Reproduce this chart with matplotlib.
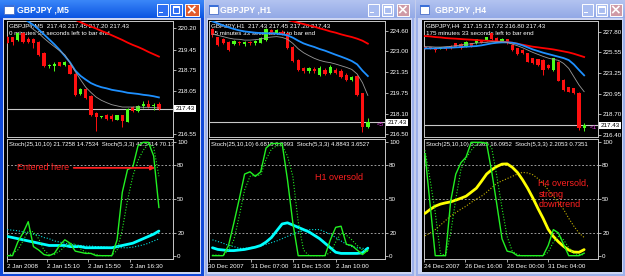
import numpy as np
import matplotlib
matplotlib.use('Agg')
import matplotlib.pyplot as plt
from matplotlib.patches import Rectangle
import matplotlib.transforms as mtransforms

plt.rcParams['font.family'] = ['Liberation Sans', 'DejaVu Sans']

nan = np.nan
# ------------------------------------------------------------------ data
titles = ['GBPJPY ,M5', 'GBPJPY ,H1', 'GBPJPY ,H4']
headers = ['GBPJPY,M5  217.43 217.45 217.20 217.43',
           'GBPJPY,H1  217.43 217.45 217.20 217.43',
           'GBPJPY,H4  217.15 217.72 216.80 217.43']
timers = ['0 minutes 33 seconds left to bar end',
          '55 minutes 33 seconds left to bar end',
          '175 minutes 33 seconds left to bar end']
stoch_headers = ['Stoch(25,10,10) 21.7258 14.7534  Stoch(5,3,3) 42.5414 70.13',
                 'Stoch(25,10,10) 6.6815 6.0993  Stoch(5,3,3) 4.8843 3.6527',
                 'Stoch(25,10,10) 5.3362 16.0952  Stoch(5,3,3) 2.2053 0.7351']
current_price = 217.43
price_ticks_m5 = [220.20, 219.45, 218.75, 218.05, 216.55]
price_ticks_h1 = [224.60, 223.00, 221.35, 219.75, 218.10, 216.50]
price_ticks_h4 = [227.80, 225.55, 223.25, 220.95, 218.70, 216.40]
stoch_levels = [20, 50, 80]
stoch_ticks = [0, 20, 50, 80, 100]
date_labels_m5 = ['2 Jan 2008', '2 Jan 15:10', '2 Jan 15:50', '2 Jan 16:30']
date_labels_h1 = ['30 Dec 2007', '31 Dec 07:00', '31 Dec 15:00', '2 Jan 10:00']
date_labels_h4 = ['24 Dec 2007', '26 Dec 16:00', '28 Dec 00:00', '31 Dec 04:00']

# M5 candles
m5_open = [219.90, 219.88, 219.79, 220.02, 219.81, 219.82, 219.73, 219.34, 218.90, 218.88,
           219.03, 218.93, 218.94, 218.63, 217.94, 218.11, 217.88, 217.29, 217.15, 217.23,
           217.17, 217.06, 217.21, 216.99, 217.49, 217.34, 217.51, 217.61, 217.51, 217.61]
m5_high = [219.92, 219.90, 220.04, 220.07, 219.88, 219.85, 219.77, 219.36, 218.95, 219.02,
           219.05, 219.07, 218.96, 218.65, 218.15, 218.14, 217.91, 217.31, 217.18, 217.26,
           217.26, 217.23, 217.23, 217.46, 217.51, 217.56, 217.69, 217.74, 217.63, 217.65]
m5_low = [219.68, 219.60, 219.77, 219.70, 219.70, 219.51, 219.24, 218.86, 218.84, 218.74,
          218.88, 218.88, 218.61, 217.88, 217.90, 217.77, 217.17, 216.66, 217.10, 217.04,
          217.00, 217.04, 216.81, 216.97, 217.32, 217.32, 217.46, 217.46, 217.38, 217.40]
m5_close = [219.70, 219.73, 220.02, 219.73, 219.73, 219.68, 219.28, 218.88, 218.90, 218.96,
            218.91, 219.02, 218.63, 217.91, 218.12, 217.80, 217.23, 217.15, 217.15, 217.08,
            217.09, 217.21, 217.00, 217.42, 217.34, 217.54, 217.58, 217.49, 217.57, 217.43]
m5_ma_red = [nan] * 13 + [220.48, 220.40, 220.32, 220.25, 220.18, 220.10, 220.03, 219.95,
                          219.87, 219.79, 219.70, 219.62, 219.55, 219.47, 219.38, 219.30, 219.22]
m5_ma_blue = [nan, nan, nan, 220.55, 220.42, 220.30, 220.15, 219.98, 219.81, 219.64,
              219.45, 219.24, 219.02, 218.74, 218.56, 218.43, 218.31, 218.23, 218.17, 218.13,
              218.08, 218.05, 218.02, 217.98, 217.96, 217.94, 217.91, 217.89, 217.86, 217.82]
m5_ma_grey = [nan, nan, nan, nan, 220.30, 220.15, 220.02, 219.85, 219.70, 219.56,
              219.42, 219.28, 219.00, 218.71, 218.43, 218.17, 217.99, 217.83, 217.72, 217.64,
              217.57, 217.53, 217.49, 217.49, 217.49, 217.49, 217.48, 217.48, 217.47, 217.46]
m5_fast_main = [0, 0, 12, 20, 30, 8, 5, 1, 0, 2, 9, 14, 11, 4, 3, 2, 2, 0, 0, 0,
                0, 14, 56, 76, 78, 97, 100, 100, 88, 42.54]
m5_fast_sig = [0, 2, 5, 13, 22, 21, 15, 5, 1, 1, 4, 8, 11, 10, 6, 3, 2, 1, 0, 0,
               0, 5, 23, 49, 70, 84, 93, 99, 96, 70.13]
m5_slow_main = [17, 16, 15, 14, 13, 12, 11, 10, 9, 9, 9, 9, 8, 8, 8, 7, 7, 7, 7, 7,
                7, 8, 9, 10, 11, 13, 15, 17, 19, 21.73]
m5_slow_sig = [23, 22.5, 22, 21, 20, 19, 18, 16, 15, 13, 12, 11, 10, 9.5, 9, 8.5, 8.5, 8, 8, 7.5,
               7, 7, 7, 7, 7.5, 8.5, 9.5, 11, 13, 14.75]

# H1 candles
h1_open = [224.73, 224.10, 223.95, 223.76, 223.58, 223.74, 223.55, 223.74, 223.63, 223.68,
           223.89, 224.68, 224.42, 224.55, 224.42, 223.37, 222.33, 221.67, 221.46, 221.59,
           221.15, 221.54, 221.28, 221.54, 221.49, 221.15, 220.76, 221.07, 219.71, 217.10]
h1_high = [224.81, 224.16, 224.02, 223.84, 223.89, 223.84, 223.84, 223.81, 223.89, 224.10,
           224.81, 224.73, 224.78, 224.68, 224.47, 223.42, 222.38, 221.80, 221.80, 221.80,
           221.85, 221.67, 221.93, 221.67, 221.59, 221.28, 221.07, 221.15, 219.76, 217.75]
h1_low = [224.16, 223.42, 223.55, 223.06, 223.50, 223.50, 223.45, 223.53, 223.53, 223.63,
          223.84, 224.34, 224.37, 224.29, 223.19, 222.19, 221.49, 221.33, 221.33, 221.28,
          221.07, 221.15, 221.23, 221.23, 220.89, 220.68, 220.68, 219.50, 216.70, 216.97]
h1_close = [224.29, 223.50, 223.63, 223.11, 223.84, 223.63, 223.76, 223.63, 223.84, 224.02,
            224.73, 224.42, 224.68, 224.34, 223.24, 222.27, 221.54, 221.46, 221.67, 221.49,
            221.67, 221.23, 221.80, 221.33, 220.97, 220.76, 221.02, 219.58, 217.10, 217.43]
h1_ma_red = [nan] * 14 + [225.47, 225.36, 225.25, 225.15, 225.04, 224.94, 224.81, 224.70,
                          224.57, 224.47, 224.34, 224.23, 224.13, 224.00, 223.84, 223.61]
h1_ma_blue = [225.36, 225.20, 225.04, 224.89, 224.76, 224.65, 224.57, 224.52, 224.47, 224.44,
              224.42, 224.42, 224.39, 224.34, 224.26, 224.08, 223.84, 223.63, 223.48, 223.35,
              223.19, 223.06, 222.90, 222.74, 222.59, 222.43, 222.25, 221.99, 221.49, 221.07]
h1_ma_grey = [224.36, 224.26, 224.16, 224.05, 223.97, 223.95, 223.89, 223.89, 223.92, 223.97,
              224.08, 224.13, 224.16, 224.10, 223.95, 223.63, 223.21, 222.90, 222.67, 222.46,
              222.30, 222.19, 222.12, 222.01, 221.88, 221.75, 221.59, 221.23, 220.55, 219.55]
h1_fast_main = [0, 0, 0, 9, 29, 50, 72, 74, 70, 74, 95, 99, 99, 99, 67, 29, 0, 0, 0, 0,
                0, 0, 14, 25, 26, 10, 9, 5, 1, 4.88]
h1_fast_sig = [0.5, 0.5, 0, 5, 14, 35, 58, 70, 71, 71, 85, 94, 97, 97, 88, 70, 30, 5, 0, 0,
               0, 0, 3, 12, 20, 18, 14, 9, 5, 3.65]
h1_slow_main = [7, 5.5, 5, 4.5, 4.5, 5, 5.5, 6.5, 7.5, 9, 12, 16, 22, 28, 29, 27, 25, 23, 21, 18,
                15, 11, 7, 3, 2, 2, 2, 2, 2.5, 6.68]
h1_slow_sig = [14, 12.5, 11, 9, 8, 6.5, 6.5, 7, 8, 9, 10, 11.5, 13, 15, 17, 19, 21, 22, 23, 23,
               23, 21, 19, 16, 13, 10, 8, 7, 6.5, 6.10]

# H4 candles
h4_open = [226.14, 226.06, 226.03, 225.92, 226.03, 226.21, 226.51, 226.43, 226.14, 226.51,
           226.51, 226.80, 226.80, 227.62, 227.06, 226.69, 226.95, 226.32, 225.95, 225.77,
           225.40, 224.85, 224.74, 224.66, 224.11, 223.56, 224.48, 222.45, 221.64, 221.53,
           220.97, 217.15]
h4_high = [226.21, 226.14, 226.14, 226.14, 226.10, 226.29, 226.58, 226.51, 226.77, 226.58,
           227.03, 226.88, 227.25, 227.70, 227.17, 227.10, 227.03, 226.43, 226.03, 225.84,
           225.48, 224.92, 224.80, 224.74, 224.20, 224.92, 224.55, 222.52, 221.72, 221.60,
           221.16, 217.72]
h4_low = [225.90, 225.84, 225.59, 225.84, 225.77, 225.88, 226.06, 225.88, 226.06, 226.14,
          226.43, 226.51, 226.73, 226.88, 226.62, 226.62, 226.43, 225.70, 225.22, 225.30,
          224.40, 224.20, 224.00, 223.00, 223.65, 223.48, 222.30, 221.25, 221.08, 220.90,
          216.92, 216.80]
h4_close = [225.95, 225.92, 225.77, 226.06, 225.84, 225.95, 226.14, 225.95, 226.69, 226.21,
            226.95, 226.58, 227.17, 226.95, 226.69, 227.03, 226.51, 225.77, 225.33, 225.40,
            224.48, 224.29, 224.11, 223.56, 223.74, 224.85, 222.38, 221.34, 221.16, 220.97,
            217.10, 217.43]
h4_ma_red = [227.32, 227.28, 227.21, 227.17, 227.10, 227.06, 227.03, 226.99, 226.95, 226.92,
             226.88, 226.84, 226.80, 226.77, 226.73, 226.69, 226.66, 226.58, 226.47, 226.36,
             226.25, 226.14, 226.07, 225.99, 225.92, 225.84, 225.73, 225.62, 225.51, 225.36,
             225.18, 225.00]
h4_ma_blue = [225.95, 225.95, 225.97, 225.99, 226.01, 226.03, 226.07, 226.10, 226.14, 226.18,
              226.21, 226.29, 226.40, 226.51, 226.58, 226.62, 226.62, 226.58, 226.47, 226.29,
              226.07, 225.84, 225.66, 225.48, 225.33, 225.18, 225.03, 224.88, 224.66, 224.18,
              223.56, 222.97]
h4_ma_grey = [226.14, 226.14, 226.10, 226.10, 226.14, 226.18, 226.25, 226.32, 226.40, 226.47,
              226.55, 226.58, 226.62, 226.69, 226.69, 226.69, 226.62, 226.43, 226.25, 226.03,
              225.77, 225.51, 225.29, 225.07, 224.88, 224.74, 224.63, 224.29, 223.74, 222.82,
              221.90, 221.16]
h4_fast_main = [90, 45, 0, 0, 0, 48, 72, 82, 87, 100, 100, 100, 99, 74, 45, 15, 4, 3, 0, 0,
                0, 0, 0, 0, 9, 23, 20, 10, 0, 0, 0, 2.21]
h4_fast_sig = [93, 67, 38, 2, 0, 20, 50, 76, 86, 93, 98, 100, 100, 95, 70, 42, 17, 4, 1, 0,
               0, 0, 0, 0, 3, 12, 17, 14, 7, 2, 1, 0.74]
h4_slow_main = [37.3, 40.8, 43.7, 45.5, 46.6, 47.5, 49, 50.7, 52.5, 56, 59.5, 65.6, 72, 75.8,
                78.7, 80.8, 81, 78, 73.5, 67, 59.5, 51, 41.7, 33, 23.3, 17, 12.2, 8.2, 5, 3.2,
                3, 5.34]
h4_slow_sig = [17.5, 20, 23, 27, 31, 35, 38, 41, 43.7, 47, 50, 52.5, 56, 60, 64, 66, 68, 70, 72,
               73.5, 73, 71.4, 68, 64, 58, 52.5, 47, 40.8, 33, 26, 20, 16.1]

# ------------------------------------------------------------------ style
W, H = 625, 276
FS = 4.5
BULL = '#4cff1a'
BEAR = '#ff1010'
GREEN = '#22f022'
FRAME = '#c8c8c8'

fig = plt.figure(figsize=(W / 100, H / 100), dpi=100)
fig.patch.set_facecolor('#c4cdec')

bg = fig.add_axes([0, 0, 1, 1])
bg.set_zorder(-10)
bg.axis('off')


def rect(x0, y0, x1, y1, **kw):
    bg.add_patch(Rectangle((x0, y0), x1 - x0, y1 - y0, **kw))


def hex2rgb(h):
    h = h.lstrip('#')
    return [int(h[i:i + 2], 16) / 255 for i in (0, 2, 4)]


windows = [
    dict(x0=0, x1=203.5, bx0=4, bx1=199.5, active=True, title_x=17),
    dict(x0=204.5, x1=414, bx0=207.8, bx1=411, active=False, title_x=219.5),
    dict(x0=415.5, x1=625, bx0=421.7, bx1=621.5, active=False, title_x=435),
]
buttons = [
    [(156.5, 168), (170, 182), (185, 198.5)],
    [(367.7, 378.5), (381.7, 393.3), (396.7, 409)],
    [(581.7, 592.5), (596, 607), (610, 621.7)],
]

for wi, (w, btn) in enumerate(zip(windows, buttons)):
    act = w['active']
    outer = '#1048d8' if act else '#9cb0ea'
    rect(w['x0'], 0, w['x1'], H + 2, fc=outer, ec='none', zorder=1)
    rect(w['x0'] + 2.5, 18, w['x1'] - 2.5, 273.5, fc='#cdd5f2', ec='none', zorder=2)
    rect(w['bx0'], 19.5, w['bx1'], 271.8, fc='black', ec='none', zorder=3)
    top, bot = ('#3a86f8', '#0c55e2') if act else ('#b2c3f0', '#93a9e6')
    t, b = np.array(hex2rgb(top)), np.array(hex2rgb(bot))
    f = np.linspace(0, 1, 18)[:, None, None]
    grad = t * (1 - f) + b * f
    bg.imshow(np.repeat(grad, 2, axis=1), extent=(w['x0'], w['x1'], 18, 0),
              aspect='auto', zorder=2, interpolation='bilinear')
    # icon
    rect(w['x0'] + 4, 4.5, w['x0'] + 13.5, 14, fc='white', ec='#4a6fc8', lw=0.6, zorder=4)
    rect(w['x0'] + 4, 4.5, w['x0'] + 13.5, 7, fc='#3a6fd8', ec='none', zorder=5)
    bg.text(w['title_x'], 9.8, titles[wi], color='white', fontsize=6.2,
            fontweight='bold', va='center', ha='left', zorder=5)
    # buttons
    for k, (a, bb) in enumerate(btn):
        if k == 2:
            fc = '#e25b2c' if act else '#cf9aa6'
        else:
            fc = '#2f6ff2' if act else '#a9bdf0'
        rect(a, 3.5, bb, 15.5, fc=fc, ec='white', lw=0.7, zorder=5)
        cx, cy = (a + bb) / 2, 9.5
        if k == 0:
            rect(cx - 3, cy + 2, cx + 1, cy + 3.3, fc='white', ec='none', zorder=6)
        elif k == 1:
            rect(cx - 3.2, cy - 3.2, cx + 3.2, cy + 3.2, fc='none', ec='white', lw=0.8, zorder=6)
            rect(cx - 3.2, cy - 3.2, cx + 3.2, cy - 2.0, fc='white', ec='none', zorder=6)
        else:
            bg.plot([cx - 3, cx + 3], [cy - 3, cy + 3], color='white', lw=1.2, zorder=6)
            bg.plot([cx - 3, cx + 3], [cy + 3, cy - 3], color='white', lw=1.2, zorder=6)

bg.set_xlim(0, W)
bg.set_ylim(H, 0)


def pax(x0, y0, x1, y1):
    return fig.add_axes([x0 / W, 1 - y1 / H, (x1 - x0) / W, (y1 - y0) / H])


def style(ax):
    ax.set_facecolor('black')
    for s in ax.spines.values():
        s.set_color(FRAME)
        s.set_linewidth(0.7)
    ax.tick_params(colors=FRAME, labelcolor='white', labelsize=FS, length=2, width=0.6, pad=1)


def candles(ax, o, h, l, c):
    o, h, l, c = map(np.asarray, (o, h, l, c))
    x = np.arange(len(o))
    cols = [BULL if ci >= oi else BEAR for oi, ci in zip(o, c)]
    ax.vlines(x, l, h, colors=cols, lw=0.7, zorder=4)
    body = np.maximum(np.abs(c - o), 0.004 * (ax.get_ylim()[1] - ax.get_ylim()[0]))
    ax.bar(x, body, bottom=np.minimum(o, c), width=0.62, color=cols, lw=0, zorder=5)


PY0, PY1 = 20.7, 136.5
SY0, SY1 = 138.5, 259.3

panes = [
    dict(x0=6.7, x1=173, xlim=(-0.12, 31.7), ylim=(216.48, 220.45),
         o=m5_open, h=m5_high, l=m5_low, c=m5_close,
         red=m5_ma_red, blue=m5_ma_blue, grey=m5_ma_grey, ticks=price_ticks_m5,
         fm=m5_fast_main, fs=m5_fast_sig, sm=m5_slow_main, ss=m5_slow_sig,
         slow_col='#00ffff', slow_sig_col='#00e0e0',
         dates=date_labels_m5, date_pos=[7.6, 15.5, 23.5], mark=None),
    dict(x0=208.5, x1=385, xlim=(-0.74, 32.2), ylim=(216.33, 225.41),
         o=h1_open, h=h1_high, l=h1_low, c=h1_close,
         red=h1_ma_red, blue=h1_ma_blue, grey=h1_ma_grey, ticks=price_ticks_h1,
         fm=h1_fast_main, fs=h1_fast_sig, sm=h1_slow_main, ss=h1_slow_sig,
         slow_col='#00ffff', slow_sig_col='#00e0e0',
         dates=date_labels_h1, date_pos=[7.1, 15.0, 23.0], mark='<5'),
    dict(x0=423.5, x1=598, xlim=(-0.29, 33.7), ylim=(216.20, 229.02),
         o=h4_open, h=h4_high, l=h4_low, c=h4_close,
         red=h4_ma_red, blue=h4_ma_blue, grey=h4_ma_grey, ticks=price_ticks_h4,
         fm=h4_fast_main, fs=h4_fast_sig, sm=h4_slow_main, ss=h4_slow_sig,
         slow_col='#ffff00', slow_sig_col='#c8b400',
         dates=date_labels_h4, date_pos=[7.8, 15.9, 23.9], mark='<1'),
]

stoch_axes = []
for k, p in enumerate(panes):
    # ---------------- price pane
    ax = pax(p['x0'], PY0, p['x1'], PY1)
    style(ax)
    ax.set_xlim(*p['xlim'])
    ax.set_ylim(*p['ylim'])
    candles(ax, p['o'], p['h'], p['l'], p['c'])
    n = len(p['o'])
    x = np.arange(n)
    ax.plot(x, p['red'], color='#ff0000', lw=1.3, zorder=6)
    ax.plot(x, p['blue'], color='#1e90ff', lw=1.3, zorder=6)
    ax.plot(x, p['grey'], color='#9a9a9a', lw=0.6, zorder=6)
    ax.axhline(current_price, color='#c8c8c8', lw=0.8, zorder=3)
    ax.yaxis.tick_right()
    ax.set_yticks(p['ticks'])
    ax.set_yticklabels([f'{t:.2f}' for t in p['ticks']])
    ax.set_xticks([])
    tr = mtransforms.blended_transform_factory(ax.transAxes, ax.transData)
    ax.text(1.0, current_price, f'{current_price:.2f}',
            transform=mtransforms.offset_copy(tr, fig=fig, x=2.2, y=0, units='dots'),
            fontsize=FS, color='black', ha='left', va='center', clip_on=False, zorder=10,
            bbox=dict(boxstyle='square,pad=0.18', fc='white', ec='none'))
    if p['mark']:
        ax.text(0.995, current_price, p['mark'], transform=tr, fontsize=FS, color='#e040e0',
                ha='right', va='top', zorder=8)
    ax.text(2.5 / (p['x1'] - p['x0']), 1 - 5.3 / (PY1 - PY0), headers[k], transform=ax.transAxes,
            fontsize=FS, color='white', ha='left', va='center', zorder=1, clip_on=True)
    ax.text(2.5 / (p['x1'] - p['x0']), 1 - 12.5 / (PY1 - PY0), timers[k], transform=ax.transAxes,
            fontsize=FS, color='white', ha='left', va='center', zorder=1, clip_on=True)

    # ---------------- stochastic pane
    sx = pax(p['x0'], SY0, p['x1'], SY1)
    style(sx)
    sx.set_xlim(*p['xlim'])
    sx.set_ylim(-3.2, 103.4)
    for lv in stoch_levels:
        sx.axhline(lv, color='#b4b4b4', lw=0.6, ls=(0, (2.2, 2.2)), zorder=1)
    sx.plot(x, p['ss'], color=p['slow_sig_col'], lw=0.8, ls=(0, (1, 1.6)), zorder=3)
    sx.plot(x, p['sm'], color=p['slow_col'], lw=2.0, zorder=4, solid_capstyle='round')
    sx.plot(x, p['fs'], color=GREEN, lw=0.8, ls=(0, (1, 1.6)), zorder=5)
    sx.plot(x, p['fm'], color=GREEN, lw=1.0, zorder=6)
    sx.yaxis.tick_right()
    sx.set_yticks(stoch_ticks)
    sx.set_yticklabels([str(t) for t in stoch_ticks])
    pos = [p['xlim'][0]] + p['date_pos']
    sx.set_xticks(pos)
    sx.set_xticklabels(p['dates'], ha='left')
    sx.tick_params(axis='x', length=2.5, pad=0.8)
    sx.text(2.5 / (p['x1'] - p['x0']), 1 - 5.8 / (SY1 - SY0), stoch_headers[k],
            transform=sx.transAxes, fontsize=4.3, color='white', ha='left', va='center',
            zorder=2, clip_on=True)
    stoch_axes.append(sx)

# annotations
s1, s2, s3 = stoch_axes
s1.text(1.85, 77.5, 'Entered here', color='#ff2020', fontsize=6.5, ha='left', va='center', zorder=8)
s1.annotate('', xy=(28.3, 77.5), xytext=(12.7, 77.5),
            arrowprops=dict(arrowstyle='-|>', color='#ff2020', lw=1.3, mutation_scale=6,
                            shrinkA=0, shrinkB=0), zorder=8)
s2.text(19.2, 69.4, 'H1 oversold', color='#ff2020', fontsize=6.5, ha='left', va='center', zorder=8)
s3.text(22.1, 67.5, 'H4 oversold,\nstrong\ndowntrend', color='#ff2020', fontsize=6.5,
        ha='left', va='top', linespacing=1.2, zorder=8)

fig.savefig('out.png', dpi=100, facecolor=fig.get_facecolor())
